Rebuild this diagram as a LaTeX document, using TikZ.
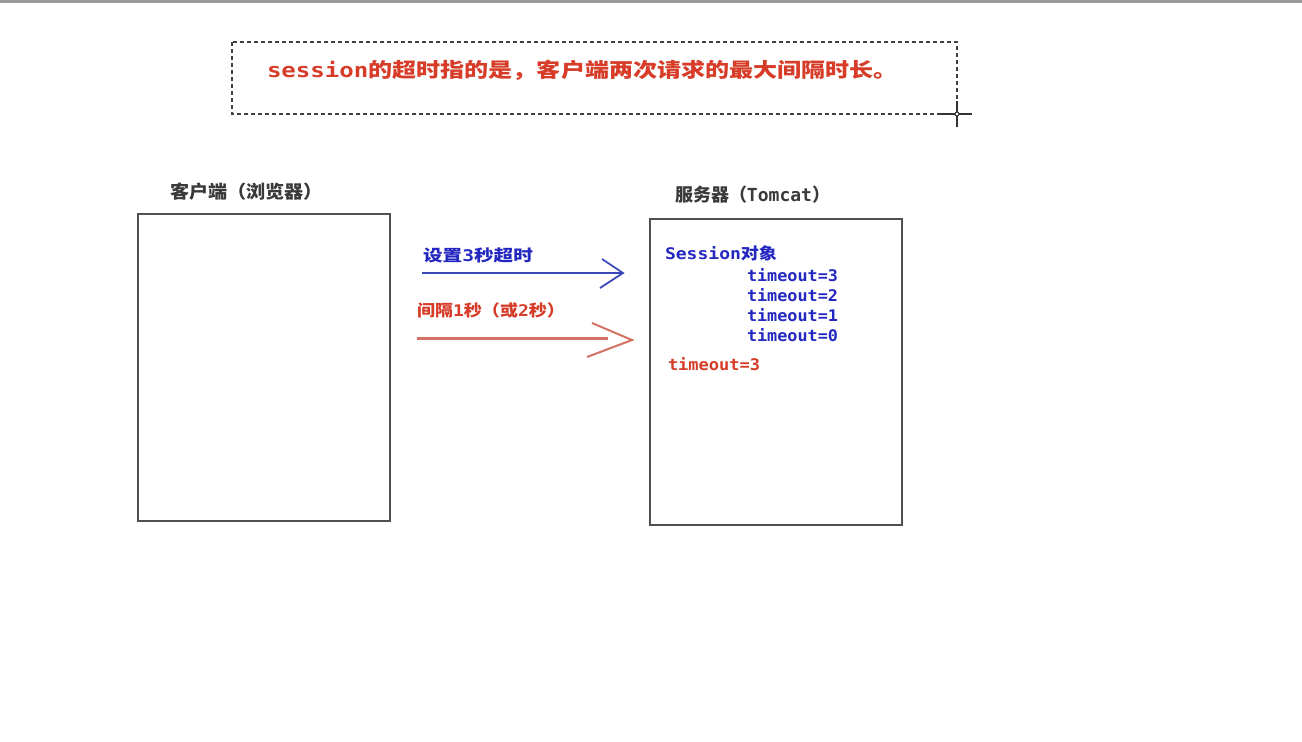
\documentclass[tikz,border=0pt]{standalone}
\usepackage{fontspec}
\usepackage{graphicx}
\newfontfamily\cjk{Noto Sans CJK SC}
\newfontfamily\mono{DejaVu Sans Mono}
\newcommand{\fitw}[2]{\resizebox{#1}{\height}{#2}}
\definecolor{tred}{HTML}{D63C28}
\definecolor{tblue}{HTML}{2428C0}
\definecolor{lblue}{HTML}{3A48B8}
\definecolor{lred}{HTML}{D27262}
\definecolor{boxgray}{HTML}{505050}
\definecolor{lblgray}{HTML}{3A3A3A}
\tikzset{
  txt/.style={anchor=west,inner sep=0pt,outer sep=0pt},
  panel/.style={draw=boxgray,line width=2.5pt,fill=white},
}
\begin{document}
\begin{tikzpicture}[x=1pt,y=-1pt]
\useasboundingbox (0,0) rectangle (1302,742);
\fill[white] (0,0) rectangle (1302,742);
% top screen edge
\draw[gray!80,line width=3pt] (0,1.5) -- (1302,1.5);
% dashed note box
\draw[black!75,line width=1.6pt,dash pattern=on 4pt off 3pt] (232,42) rectangle (957,114);
\node[txt,text=tred] (note) at (267,70) {\fitw{631pt}{\fontsize{20}{24}\selectfont\bfseries{\mono session}{\cjk 的超时指的是，客户端两次请求的最大间隔时长。}}};
% cursor cross
\coordinate (cur) at (957,114);
\draw[black!80,line width=1.5pt] ([xshift=-16pt]cur) -- ([xshift=15pt]cur);
\draw[black!80,line width=1.5pt] ([yshift=-13pt]cur) -- ([yshift=13pt]cur);
\draw[black!80,line width=1pt,fill=white] (cur) circle (2pt);
% boxes
\draw[panel] (138,214) rectangle (390,521);
\draw[panel] (650,219) rectangle (902,525);
\node[txt,text=lblgray] (clientlbl) at (170,192) {\fitw{153pt}{\fontsize{18}{22}\selectfont\cjk\bfseries 客户端（浏览器）}};
\node[txt,text=lblgray] (serverlbl) at (675,195) {\fitw{155pt}{\fontsize{18}{22}\selectfont\cjk\bfseries 服务器（{\mono\bfseries Tomcat}）}};
% arrow labels
\node[txt,text=tblue] (bluelbl) at (423,255) {\fitw{110pt}{\fontsize{16}{20}\selectfont\cjk\bfseries 设置{\mono\bfseries 3}秒超时}};
\node[txt,text=tred] (redlbl) at (417,310) {\fitw{148pt}{\fontsize{16}{20}\selectfont\cjk\bfseries 间隔{\mono\bfseries 1}秒（或{\mono\bfseries 2}秒）}};
% blue arrow
\coordinate (b0) at (422,273);
\coordinate (b1) at (623,273);
\draw[lblue,line width=2pt] (b0) -- (b1);
\draw[lblue,line width=1.8pt,line join=miter] ([shift={(-23pt,-15pt)}]b1) -- (b1) -- ([shift={(-21pt,14pt)}]b1);
% red arrow
\coordinate (r0) at (417,338);
\coordinate (r1) at (608,338);
\coordinate (rt) at (632,340);
\draw[lred,line width=3pt] (r0) -- (r1);
\draw[lred,line width=2pt,line join=miter] ([shift={(-45pt,-17pt)}]rt) -- (rt) -- ([shift={(-40pt,17pt)}]rt);
% server contents
\node[txt,text=tblue] (sess) at (665,253) {\fitw{112pt}{\fontsize{16}{20}\selectfont\bfseries{\mono Session}{\cjk 对象}}};
\node[txt,text=tblue] (t3) at (747,275) {\fitw{91pt}{\fontsize{16}{20}\selectfont\mono\bfseries timeout=3}};
\node[txt,text=tblue] (t2) at (747,295) {\fitw{91pt}{\fontsize{16}{20}\selectfont\mono\bfseries timeout=2}};
\node[txt,text=tblue] (t1) at (747,315) {\fitw{91pt}{\fontsize{16}{20}\selectfont\mono\bfseries timeout=1}};
\node[txt,text=tblue] (t0) at (747,335) {\fitw{91pt}{\fontsize{16}{20}\selectfont\mono\bfseries timeout=0}};
\node[txt,text=tred] (tr) at (668,364) {\fitw{92pt}{\fontsize{16}{20}\selectfont\mono\bfseries timeout=3}};
\end{tikzpicture}
\end{document}
